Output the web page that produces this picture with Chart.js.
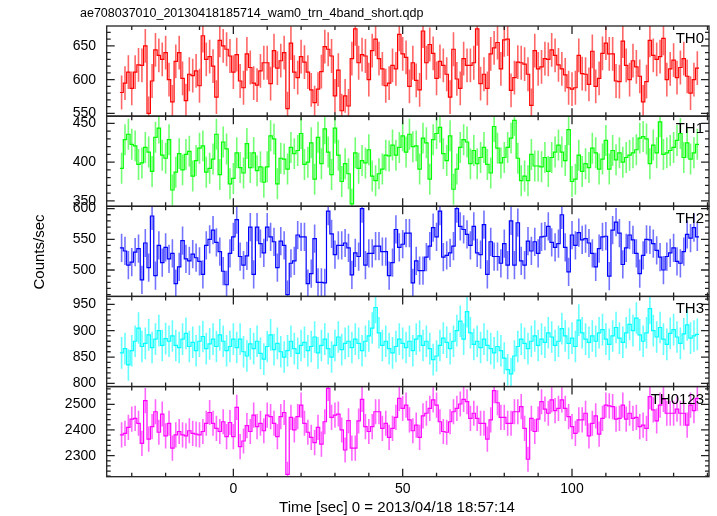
<!DOCTYPE html>
<html>
<head>
<meta charset="utf-8">
<script src="https://cdn.jsdelivr.net/npm/chart.js@4.4.1/dist/chart.umd.min.js"></script>
<style>
  html, body { margin: 0; padding: 0; background: #fff; }
  canvas { display: block; }
</style>
</head>
<body>
<canvas id="lc" width="717" height="516"></canvas>
<script>
// 1 s bins, first bin centred on t = -33
var t0 = -33;

var th0 = [581,595,611,587,611,622,621,650,550,598, 644,636,630,640,600,567,627,640,602,569,
  608,606,613,591,665,630,634,620,574,658, 650,645,635,611,637,598,588,638,618,595,
  592,613,625,625,594,643,617,628,640,557, 654,611,603,
  634,626,611,585,566,586,612,649,645,635, 576,614,554,576,561,631,675,625,637,635,
  600,643,660,631,616,591,595,621,616,667, 638,633,590,625,599,585,672,625,652,639,
  602,627,621,608,574,645,601,587,631,621, 621,625,675,594,608,587,638,647,655,616,
  659,660,584,603,626,625,623,608,562,643, 616,
  619,631,630,644,636,622,616,607,588,586, 588,636,609,608,593,642,590,602,639,654,
  638,638,598,597,657,621,600,628,619,605, 567,597,658,636,630,634,661,600,616,629,
  603,618,631,605,580,600,617];

var th1 = [392,429,436,423,421,397,399,419,413,388, 432,444,409,405,429,364,387,411,390,410,
  414,382,402,418,421,387,392,404,436,384, 426,417,372,379,412,393,386,424,393,412,
  389,394,374,394,434,430,372,405,404,391, 419,411,415,437,397,
  400,425,378,432,398,443,413,384,444,409, 375,398,385,346,412,392,402,399,416,382,
  376,385,391,409,408,422,409,419,434,413, 436,420,421,391,431,425,378,429,437,445,
  411,402,434,365,391,419,429,426,398,415, 398,406,419,397,386,446,418,399,406,
  419,431,454,405,376,382,376,410,395,395, 394,406,388,406,413,422,413,402,442,375,
  378,409,388,398,393,418,412,391,404,428, 391,415,403,412,400,406,409,412,416,431,
  433,430,398,422,412,452,410,412,415,419, 428,437,406,425,404,412,423];

var th2 = [536,531,508,513,529,535,484,544,504,588, 491,540,512,537,518,527,478,505,548,518,
  515,526,520,514,493,540,550,565,545,530, 498,476,527,554,582,522,508,523,570,493,
  570,543,528,570,554,546,504,547,540,460, 511,515,557,554,554,
  478,494,551,480,480,479,596,559,525,540, 540,544,536,492,528,522,600,508,527,527,
  539,539,530,530,491,512,566,537,542,560, 560,479,515,499,499,521,539,569,554,596,
  521,524,528,539,600,571,566,558,540,571, 528,525,574,493,546,522,522,511,543,
  508,580,508,577,515,508,547,531,546,527, 554,555,571,545,537,543,590,537,497,557,
  540,561,549,551,544,527,505,535,554,555, 490,565,578,560,509,536,557,549,527,494,
  524,550,549,543,532,521,500,522,528,536, 514,511,530,558,552,569,554];

var th3 = [858,866,835,862,880,905,870,
  876,892,868,884,900,872,885,880,890,872,868,
  884,895,870,878,862,880,889,866,875,884,870,892,880,862,870,884,
  868,884,860,852,875,866,880,857,846,870, 892,864,876,860,850,862,880,866,857,872,
  878,862,870,888,858,872,884,866,850,872, 888,864,876,880,868,884,876,862,880,890,
  905,944,896,872,880,866,858,870,884,876,
  868,880,862,884,890,872,880,866,845,852,872,886,878,866,880,
  900,918,884,936,896,874,880,868,884,872,
  866,858,870,862,848,826,818,852,870,884,876,866,880,890,872,
  884,878,896,888,872,880,904,890,876,886,870,920,896,884,878,
  890,880,896,902,884,874,890,906,886,878,896,912,900,924,892,
  880,896,942,900,888,906,884,874,895,902,888,876,894,911,886,890,893];

var th0123 = [2381,2387,2410,2442,2445,2426,2348,2514,2364,2413, 2471,2391,2462,2377,2426,2329,2381,2394,2381,2377,
  2397,2387,2384,2381,2394,2426,2468,2426,2406,2394, 2432,2374,2429,2374,2488,2335,2357,2417,2394,2458,
  2413,2426,2397,2458,2452,2426,2374,2452,2468,2227, 2449,2400,2452,2497,2426,2391,2371,2351,2410,2345,
  2432,2562,2449,2458,2462,2400,2322,2436,2329,2329, 2435,
  2519,2413,2394,2413,2471,2471,2406,2426,2371,2406, 2449,2523,2484,2497,2439,2397,2419,2371,2455,2465,
  2484,2517,2497,2432,2394,2391,2432,2471,2484,2501, 2519,2510,2445,2465,2445,2426,2426,2364,2439,2553,
  2506,2449,2449,2426,2426,2471,2471,2491,2406,2286, 2445,2394,2442,2510,2481,2465,2517,2475,2484,2517,
  2484,2452,2413,2387,2439,2439,2465,2377,2426,2455, 2384,2445,2497,2494,2491,2442,2445,2497,2442,2465,
  2445,2449,2413,2419,2406,2530,2478,2435,2497,2519, 2465,2465,2465,2481,2465,2465,2419,2497,2475,2523];

var bands = ["TH0", "TH1", "TH2", "TH3", "TH0123"];
var series = [th0, th1, th2, th3, th0123];
var errs = [25, 20, 23, 30, 49];
var colors = ["#ff0000", "#00ff00", "#0000ff", "#00ffff", "#ff00ff"];
var barColors = ["rgba(255,0,0,0.6)", "rgba(0,255,0,0.55)", "rgba(0,0,255,0.55)", "rgba(0,255,255,0.6)", "rgba(255,0,255,0.6)"];
var yMin = [546, 343, 457, 794, 2218];
var yMax = [679.4, 459.4, 603.8, 965, 2569];
var yStep = [50, 50, 50, 50, 100];
var yMinor = [10, 10, 10, 10, 20];
var xMin = -37.4, xMax = 140.45;

var font = "'Liberation Sans', Arial, Helvetica, sans-serif";

function steps(vals) {
    var pts = vals.map(function(v, k) {
        return {x: t0 + k - 0.5, y: v};
    });
    pts.push({x: t0 + vals.length - 0.5, y: vals[vals.length - 1]});
    return pts;
}

var datasets = [];
var scales = {
    x: {
        type: "linear",
        position: "bottom",
        min: xMin,
        max: xMax,
        grid: {display: false, drawTicks: false},
        border: {display: false},
        ticks: {stepSize: 50, includeBounds: false, color: "#000", padding: 4, font: {family: font, size: 14}},
        afterFit: function(s) { s.height = 39.3; }
    }
};

series.forEach(function(vals, i) {
    datasets.push({
        data: steps(vals),
        yAxisID: "y" + i,
        borderColor: colors[i],
        borderWidth: 1.2,
        stepped: "before",
        pointRadius: 0,
        fill: false
    });
});

// stacked scales are laid out last-defined on top, so add them bottom panel first
for (var i = series.length - 1; i >= 0; i--) {
    scales["y" + i] = {
        type: "linear",
        position: "left",
        stack: "panels",
        stackWeight: 1,
        min: yMin[i],
        max: yMax[i],
        grid: {display: false, drawTicks: false},
        border: {display: false},
        ticks: {
            stepSize: yStep[i], includeBounds: false, autoSkip: false,
            color: "#000", padding: 10.7, font: {family: font, size: 14},
            callback: function(v) { return String(v); }
        },
        afterFit: function(s) { s.width = 106.7; }
    };
}

var errorBars = {
    id: "errorBars",
    beforeDatasetsDraw: function(chart) {
        var ctx = chart.ctx, xs = chart.scales.x;
        series.forEach(function(vals, i) {
            var ys = chart.scales["y" + i];
            ctx.save();
            ctx.beginPath();
            ctx.rect(xs.left, ys.top, xs.right - xs.left, ys.bottom - ys.top);
            ctx.clip();
            ctx.strokeStyle = barColors[i];
            ctx.lineWidth = 1.6;
            ctx.beginPath();
            vals.forEach(function(v, k) {
                var px = xs.getPixelForValue(t0 + k);
                ctx.moveTo(px, ys.getPixelForValue(v - errs[i]));
                ctx.lineTo(px, ys.getPixelForValue(v + errs[i]));
            });
            ctx.stroke();
            ctx.restore();
        });
    }
};

var frames = {
    id: "frames",
    afterDraw: function(chart) {
        var ctx = chart.ctx, xs = chart.scales.x;
        var L = xs.left, R = xs.right;
        ctx.save();
        ctx.strokeStyle = "#222";
        ctx.lineWidth = 1.3;
        series.forEach(function(vals, i) {
            var ys = chart.scales["y" + i];
            var T = ys.top, B = ys.bottom;
            ctx.strokeRect(L, T, R - L, B - T);
            ctx.beginPath();
            for (var t = -30; t <= xMax; t += 10) {
                var px = xs.getPixelForValue(t);
                var len = t % 50 === 0 ? 8 : 4;
                ctx.moveTo(px, T); ctx.lineTo(px, T + len);
                ctx.moveTo(px, B); ctx.lineTo(px, B - len);
            }
            var m = yMinor[i];
            for (var v = Math.ceil(yMin[i] / m) * m; v <= yMax[i]; v += m) {
                var py = ys.getPixelForValue(v);
                var ln = v % yStep[i] === 0 ? 8 : 4;
                ctx.moveTo(L, py); ctx.lineTo(L + ln, py);
                ctx.moveTo(R, py); ctx.lineTo(R - ln, py);
            }
            ctx.stroke();
        });
        ctx.fillStyle = "#000";
        ctx.font = "15px " + font;
        ctx.textAlign = "right";
        ctx.textBaseline = "alphabetic";
        series.forEach(function(vals, i) {
            ctx.fillText(bands[i], 704, chart.scales["y" + i].top + 17);
        });
        ctx.textAlign = "left";
        ctx.font = "12.5px " + font;
        ctx.fillText("ae708037010_20130418185714_wam0_trn_4band_short.qdp", 80, 16.5);
        ctx.textAlign = "center";
        ctx.font = "15px " + font;
        ctx.fillText("Time [sec] 0 = 2013/04/18 18:57:14", 397, 511.5);
        ctx.translate(40, 252);
        ctx.rotate(-Math.PI / 2);
        ctx.textBaseline = "middle";
        ctx.fillText("Counts/sec", 0, 0);
        ctx.restore();
    }
};

new Chart(document.getElementById("lc"), {
    type: "line",
    data: {datasets: datasets},
    options: {
        responsive: false,
        animation: false,
        events: [],
        layout: {padding: {top: 26, right: 8, left: 0, bottom: 0}},
        plugins: {legend: {display: false}, tooltip: {enabled: false}, title: {display: false}},
        scales: scales
    },
    plugins: [errorBars, frames]
});
</script>
</body>
</html>
